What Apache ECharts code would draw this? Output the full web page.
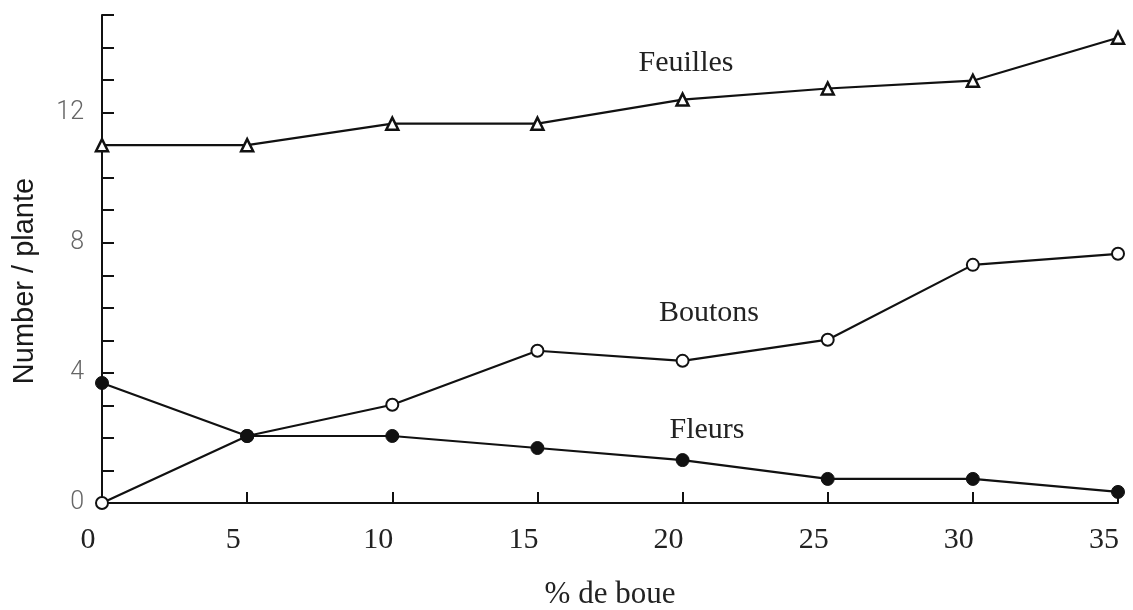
<!DOCTYPE html>
<html>
<head>
<meta charset="utf-8">
<script src="https://cdn.jsdelivr.net/npm/echarts@6/dist/echarts.min.js"></script>
<style>
  html, body { margin: 0; padding: 0; background: #fff; }
  #chart { width: 1133px; height: 610px; }
</style>
</head>
<body>
<div id="chart"></div>
<script>
// ---- data ----
const xValues = [0, 5, 10, 15, 20, 25, 30, 35];
const feuilles = [11.0, 11.0, 11.66, 11.66, 12.4, 12.74, 12.98, 14.3];
const boutons = [0, 2.06, 3.02, 4.68, 4.37, 5.02, 7.32, 7.66];
const fleurs = [3.69, 2.06, 2.06, 1.69, 1.32, 0.74, 0.74, 0.34];
const yTickLabels = [0, 4, 8, 12];
const seriesNames = ['Feuilles', 'Boutons', 'Fleurs'];
const xTitle = '% de boue';
const yTitle = 'Number / plante';

const serif = '"Liberation Serif", "Times New Roman", serif';
const sans = '"Liberation Sans", Arial, sans-serif';

function pairs(arr) { return xValues.map((x, i) => [x, arr[i]]); }

const chart = echarts.init(document.getElementById('chart'), null, { renderer: 'canvas' });

const lineStyle = { color: '#111', width: 2.2 };

chart.setOption({
  animation: false,
  backgroundColor: '#fff',
  grid: { left: 102, right: 15, top: 15, bottom: 107, containLabel: false, outerBoundsMode: 'none' },
  xAxis: {
    type: 'value', min: 0, max: 35, interval: 5,
    name: xTitle, nameLocation: 'middle', nameGap: 76,
    nameTextStyle: { fontFamily: serif, fontSize: 31, color: '#222' },
    axisLine: { show: true, onZero: false, lineStyle: { color: '#111', width: 2 } },
    axisTick: { show: true, inside: true, length: 11, lineStyle: { color: '#111', width: 2 } },
    axisLabel: { fontFamily: serif, fontSize: 30, color: '#222', margin: 22,
                 padding: [0, 28, 0, 0], showMinLabel: true, showMaxLabel: true },
    splitLine: { show: false }
  },
  yAxis: {
    type: 'value', min: 0, max: 15, interval: 1,
    axisLine: { show: true, onZero: false, lineStyle: { color: '#111', width: 2 } },
    axisTick: { show: true, inside: true, length: 12, lineStyle: { color: '#111', width: 2 } },
    axisLabel: {
      fontFamily: 'Roboto, ' + sans, fontWeight: 300, fontSize: 25, color: '#666', margin: 18,
      formatter: v => (yTickLabels.indexOf(v) >= 0 ? String(v) : '')
    },
    splitLine: { show: false }
  },
  graphic: [
    { type: 'text', x: 25, y: 281, rotation: Math.PI / 2,
      style: { text: yTitle, font: 'normal 29px ' + sans, fill: '#1a1a1a', align: 'center', verticalAlign: 'middle' } },
    { type: 'text', x: 686, y: 63,
      style: { text: seriesNames[0], font: '30px ' + serif, fill: '#222', align: 'center', verticalAlign: 'middle' } },
    { type: 'text', x: 709, y: 313,
      style: { text: seriesNames[1], font: '30px ' + serif, fill: '#222', align: 'center', verticalAlign: 'middle' } },
    { type: 'text', x: 707, y: 430,
      style: { text: seriesNames[2], font: '30px ' + serif, fill: '#222', align: 'center', verticalAlign: 'middle' } }
  ],
  series: [
    { name: seriesNames[0], type: 'line', data: pairs(feuilles), clip: false,
      symbol: 'triangle', symbolSize: 12, showAllSymbol: true,
      lineStyle: lineStyle, itemStyle: { color: '#fff', borderColor: '#111', borderWidth: 2.5 }, z: 5 },
    { name: seriesNames[1], type: 'line', data: pairs(boutons), clip: false,
      symbol: 'circle', symbolSize: 12, showAllSymbol: true,
      lineStyle: lineStyle, itemStyle: { color: '#fff', borderColor: '#111', borderWidth: 2 }, z: 5 },
    { name: seriesNames[2], type: 'line', data: pairs(fleurs), clip: false,
      symbol: 'circle', symbolSize: 13, showAllSymbol: true,
      lineStyle: lineStyle, itemStyle: { color: '#111', borderColor: '#111', borderWidth: 1 }, z: 6 }
  ]
});
</script>
</body>
</html>
